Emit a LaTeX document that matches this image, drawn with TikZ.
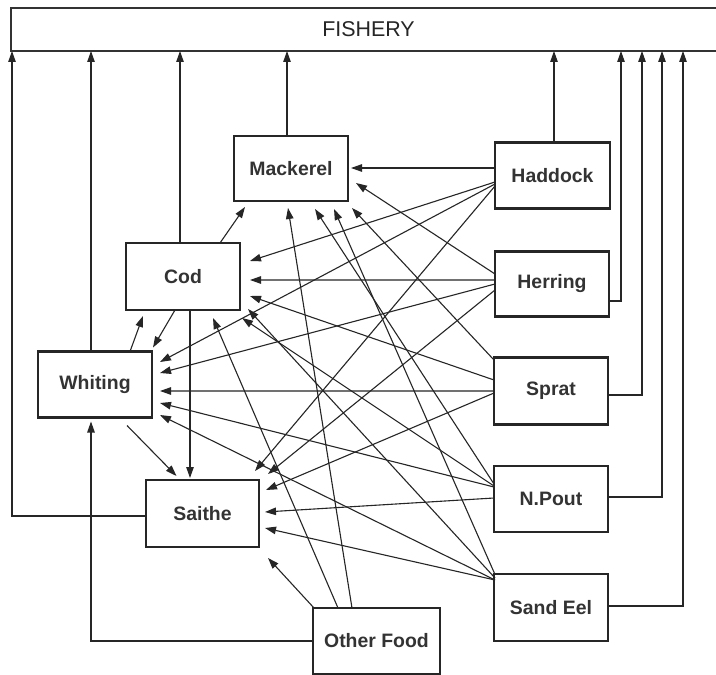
\documentclass[tikz,border=0pt]{standalone}
\usepackage{fontspec}
\setmainfont{Liberation Sans}
\usetikzlibrary{arrows.meta,calc}
\begin{document}
\begin{tikzpicture}[x=1bp,y=-1bp,
  box/.style={draw=black!85, line width=2.3bp, minimum width=114bp, minimum height=66bp,
    inner sep=0pt, outer sep=0pt, font=\bfseries\fontsize{19.5}{22}\selectfont, text=black!80},
  arr/.style={draw=black!85, line width=1.1bp, -{Triangle[length=11bp,width=7.5bp]}}]
\useasboundingbox (0,0) rectangle (716,675);
\fill[white] (0,0) rectangle (716,675);

% Fishery
\node[minimum width=715bp, minimum height=43bp, inner sep=0pt, outer sep=0pt,
  font=\fontsize{21.5}{25}\selectfont, text=black!85] (fish) at (368.5,29.5) {FISHERY};
\draw[line width=1.5bp, draw=black!80] (fish.north east) -- (fish.north west) -- (fish.south west) -- (fish.south east);

% Species boxes
\node[box, minimum height=65bp] (mack) at (291,168.5) {Mackerel};
\node[box, minimum height=67bp] (cod) at (183,276.5) {Cod};
\node[box] (whit) at (95,384.5) {Whiting};
\node[box, minimum width=113bp, minimum height=67bp] (sai) at (202.5,513.5) {Saithe};
\node[box, minimum width=127bp] (oth) at (376.5,641) {Other Food};
\node[box, minimum width=115bp] (had) at (552.5,175.5) {Haddock};
\node[box, minimum height=65bp] (her) at (552,284) {Herring};
\node[box, minimum height=67bp] (spr) at (551,391) {Sprat};
\node[box] (npo) at (551,499) {N.Pout};
\node[box, minimum height=67bp] (sand) at (551,607.5) {Sand Eel};

% Fishery entry points
\coordinate (fSai) at (12,51);
\coordinate (fHer) at (621,51);
\coordinate (fSpr) at (642,51);
\coordinate (fNpo) at (662,51);
\coordinate (fSand) at (683,51);

% Catches to fishery
\draw[arr] ($(whit.north)+(-4,0)$) -- ($(whit.north |- fish.south)+(-4,0)$);
\draw[arr] ($(cod.north)+(-3,0)$) -- ($(cod.north |- fish.south)+(-3,0)$);
\draw[arr] ($(mack.north)+(-4,0)$) -- ($(mack.north |- fish.south)+(-4,0)$);
\draw[arr] ($(had.north)+(1.5,0)$) -- ($(had.north |- fish.south)+(1.5,0)$);
\draw[arr] ($(sai.west)+(0,2.5)$) -| (fSai);
\draw[arr] ($(her.east)+(0,17)$) -| (fHer);
\draw[arr] ($(spr.east)+(0,4)$) -| (fSpr);
\draw[arr] ($(npo.east)+(0,-2)$) -| (fNpo);
\draw[arr] ($(sand.east)+(0,-1.5)$) -| (fSand);

% Prey to Mackerel
\draw[arr] ($(had.west)+(0,-7.5)$) -- ($(mack.east)+(3,-0.5)$);
\draw[arr] ($(her.west)+(0,-10)$) -- ($(mack.east)+(8,14.5)$);
\draw[arr] ($(cod.north)+(37,0)$) -- ($(mack.south)+(-46,6)$);
\draw[arr] ($(oth.north)+(-24.5,0)$) -- ($(mack.south)+(-3,7)$);
\draw[arr] ($(npo.west)+(0,-15)$) -- ($(mack.south)+(24,8)$);
\draw[arr] ($(sand.west)+(1,-33)$) -- ($(mack.south)+(43,8)$);
\draw[arr] ($(spr.west)+(0,-31)$) -- ($(mack.south)+(61,7)$);

% Prey to Cod
\draw[arr] ($(had.west)+(0,6.5)$) -- ($(cod.east)+(10,-15.5)$);
\draw[arr] ($(her.west)+(0,-4)$) -- ($(cod.east)+(10,3.5)$);
\draw[arr] ($(spr.west)+(0,-11)$) -- ($(cod.east)+(10,19.5)$);
\draw[arr] ($(sand.west)+(1,-29.5)$) -- ($(cod.east)+(8,32.5)$);
\draw[arr] ($(npo.west)+(0,-13)$) -- ($(cod.east)+(2,41.5)$);
\draw[arr] ($(oth.north)+(-38.5,0)$) -- ($(cod.south)+(30,8)$);
\draw[arr] ($(whit.north)+(35,0)$) -- ($(cod.south)+(-40,6)$);

% Prey to Whiting
\draw[arr] ($(cod.south)+(-8,0)$) -- ($(whit.north east)+(1,-4)$);
\draw[arr] ($(had.west)+(0,8.5)$) -- ($(whit.east)+(8,-22.5)$);
\draw[arr] (her.west) -- ($(whit.east)+(8,-11.5)$);
\draw[arr] (spr.west) -- ($(whit.east)+(8,6.5)$);
\draw[arr] ($(npo.west)+(0,-12)$) -- ($(whit.east)+(8,18.5)$);
\draw[arr] ($(sand.west)+(1,-27.5)$) -- ($(whit.east)+(8,30.5)$);
\draw[arr] (oth.west) -| ($(whit.south)+(-4,4)$);

% Prey to Saithe
\draw[arr] ($(whit.south)+(32,8)$) -- ($(sai.north)+(-26,-4)$);
\draw[arr] ($(cod.south)+(7,0)$) -- ($(sai.north)+(-12.5,-2)$);
\draw[arr] ($(had.west)+(0,10.5)$) -- ($(sai.north east)+(-4,-9)$);
\draw[arr] ($(her.west)+(0,6)$) -- ($(sai.north east)+(9,-6)$);
\draw[arr] ($(spr.west)+(0,2)$) -- ($(sai.east)+(7,-23.5)$);
\draw[arr] ($(npo.west)+(0,-1)$) -- ($(sai.east)+(6,-1.5)$);
\draw[arr] ($(sand.west)+(1,-27.5)$) -- ($(sai.east)+(6,14.5)$);
\draw[arr] ($(oth.north west)+(1,0)$) -- ($(sai.south east)+(9,11)$);
\end{tikzpicture}
\end{document}
